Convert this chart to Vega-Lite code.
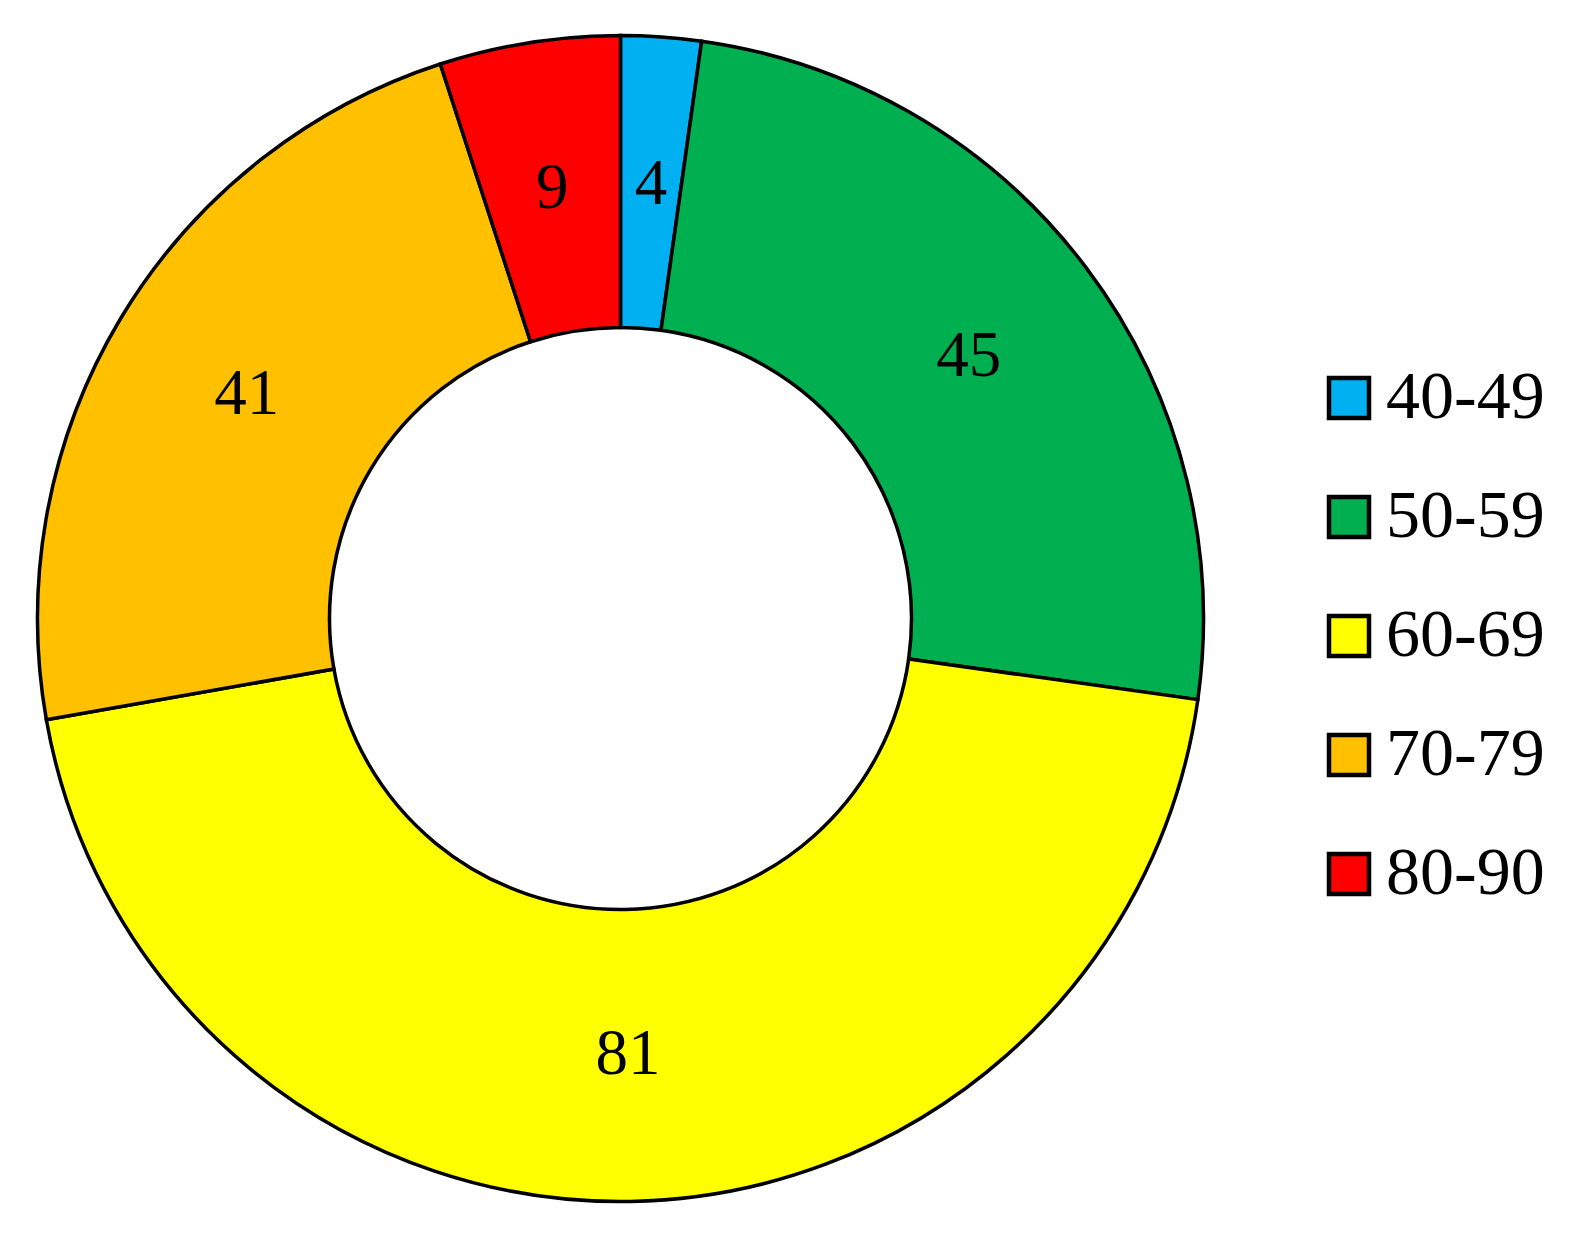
{
  "$schema": "https://vega.github.io/schema/vega-lite/v6.json",
  "width": 1241,
  "height": 1237,
  "autosize": {"type": "none"},
  "padding": {"left": 0, "top": 0, "right": 336, "bottom": 2},
  "background": "white",
  "config": {"view": {"stroke": null}},
  "data": {
    "values": [
      {"group": "40-49", "count": 4},
      {"group": "50-59", "count": 45},
      {"group": "60-69", "count": 81},
      {"group": "70-79", "count": 41},
      {"group": "80-90", "count": 9}
    ]
  },
  "encoding": {
    "theta": {"field": "count", "type": "quantitative", "stack": true},
    "order": {"field": "group", "type": "ordinal", "sort": "ascending"}
  },
  "layer": [
    {
      "mark": {"type": "arc", "outerRadius": 583, "innerRadius": 291, "stroke": "black", "strokeWidth": 3.5},
      "encoding": {
        "color": {
          "field": "group",
          "type": "nominal",
          "scale": {
            "domain": ["40-49", "50-59", "60-69", "70-79", "80-90"],
            "range": ["#00B0F0", "#00B050", "#FFFF00", "#FFC000", "#FF0000"]
          },
          "legend": {
            "title": null,
            "orient": "none",
            "legendX": 1315,
            "legendY": 364,
            "padding": 0,
            "symbolType": "square",
            "symbolSize": 1600,
            "symbolStrokeColor": "black",
            "symbolStrokeWidth": 4.5,
            "symbolOpacity": 1,
            "labelFont": "Liberation Serif",
            "labelFontSize": 68,
            "labelColor": "black",
            "labelOffset": 3,
            "rowPadding": 51,
            "labelLimit": 400
          }
        }
      }
    },
    {
      "mark": {"type": "text", "radius": 436, "font": "Liberation Serif", "fontSize": 65, "color": "black", "align": "center", "baseline": "middle"},
      "encoding": {
        "text": {"field": "count", "type": "quantitative"}
      }
    }
  ]
}
